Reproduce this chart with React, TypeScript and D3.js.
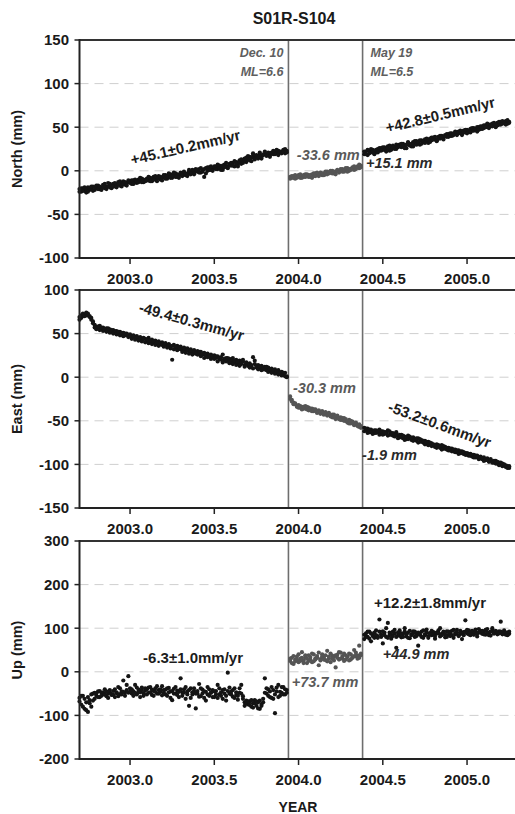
import React from "react";
import * as d3 from "d3";

// ---------- DATA ----------
const TITLE = "S01R-S104";
const X_TICKS = [2003.0, 2003.5, 2004.0, 2004.5, 2005.0];
const EVENTS = [2003.94, 2004.38];

const EPOCHS_1 = [
  2002.70, 2002.71, 2002.72, 2002.73, 2002.74, 2002.75, 2002.76, 2002.77, 2002.78, 2002.79,
  2002.80, 2002.81, 2002.82, 2002.83, 2002.84, 2002.85, 2002.86, 2002.87, 2002.88, 2002.89,
  2002.90, 2002.91, 2002.92, 2002.93, 2002.94, 2002.95, 2002.96, 2002.97, 2002.98, 2002.99,
  2003.00, 2003.01, 2003.02, 2003.03, 2003.04, 2003.05, 2003.06, 2003.07, 2003.08, 2003.09,
  2003.10, 2003.11, 2003.12, 2003.13, 2003.14, 2003.15, 2003.16, 2003.17, 2003.18, 2003.19,
  2003.20, 2003.21, 2003.22, 2003.23, 2003.24, 2003.25, 2003.26, 2003.27, 2003.28, 2003.29,
  2003.30, 2003.31, 2003.32, 2003.33, 2003.34, 2003.35, 2003.36, 2003.37, 2003.38, 2003.39,
  2003.40, 2003.41, 2003.42, 2003.43, 2003.44, 2003.45, 2003.46, 2003.47, 2003.48, 2003.49,
  2003.50, 2003.51, 2003.52, 2003.53, 2003.54, 2003.55, 2003.56, 2003.57, 2003.58, 2003.59,
  2003.60, 2003.61, 2003.62, 2003.63, 2003.64, 2003.65, 2003.66, 2003.67, 2003.68, 2003.69,
  2003.70, 2003.71, 2003.72, 2003.73, 2003.74, 2003.75, 2003.76, 2003.77, 2003.78, 2003.79,
  2003.80, 2003.81, 2003.82, 2003.83, 2003.84, 2003.85, 2003.86, 2003.87, 2003.88, 2003.89,
  2003.90, 2003.91, 2003.92, 2003.93,
];
const EPOCHS_2 = [
  2003.95, 2003.96, 2003.97, 2003.98, 2003.99, 2004.00, 2004.01, 2004.02, 2004.03, 2004.04,
  2004.05, 2004.06, 2004.07, 2004.08, 2004.09, 2004.10, 2004.11, 2004.12, 2004.13, 2004.14,
  2004.15, 2004.16, 2004.17, 2004.18, 2004.19, 2004.20, 2004.21, 2004.22, 2004.23, 2004.24,
  2004.25, 2004.26, 2004.27, 2004.28, 2004.29, 2004.30, 2004.31, 2004.32, 2004.33, 2004.34,
  2004.35, 2004.36, 2004.37,
];
const EPOCHS_3 = [
  2004.39, 2004.40, 2004.41, 2004.42, 2004.43, 2004.44, 2004.45, 2004.46, 2004.47, 2004.48,
  2004.49, 2004.50, 2004.51, 2004.52, 2004.53, 2004.54, 2004.55, 2004.56, 2004.57, 2004.58,
  2004.59, 2004.60, 2004.61, 2004.62, 2004.63, 2004.64, 2004.65, 2004.66, 2004.67, 2004.68,
  2004.69, 2004.70, 2004.71, 2004.72, 2004.73, 2004.74, 2004.75, 2004.76, 2004.77, 2004.78,
  2004.79, 2004.80, 2004.81, 2004.82, 2004.83, 2004.84, 2004.85, 2004.86, 2004.87, 2004.88,
  2004.89, 2004.90, 2004.91, 2004.92, 2004.93, 2004.94, 2004.95, 2004.96, 2004.97, 2004.98,
  2004.99, 2005.00, 2005.01, 2005.02, 2005.03, 2005.04, 2005.05, 2005.06, 2005.07, 2005.08,
  2005.09, 2005.10, 2005.11, 2005.12, 2005.13, 2005.14, 2005.15, 2005.16, 2005.17, 2005.18,
  2005.19, 2005.20, 2005.21, 2005.22, 2005.23, 2005.24, 2005.25,
];

// North (mm): two solutions per epoch (A, B)
const NORTH_1 = [
  -21, -24, -20, -23, -25, -19, -22, -21, -18, -22,
  -20, -17, -21, -19, -16, -20, -18, -14, -19, -17,
  -15, -18, -16, -13, -17, -15, -12, -16, -14, -13,
  -12, -15, -11, -13, -14, -10, -12, -9, -13, -11,
  -9, -11, -8, -12, -7, -10, -9, -6, -10, -8,
  -7, -5, -9, -6, -4, -8, -6, -3, -7, -5,
  -4, -6, -2, -5, -3, 1, -4, -2, -3, 0,
  -1, 2, -2, 1, -7, 3, 0, 4, 1, 2,
  3, 5, 2, 6, 4, 1, 7, 5, 3, 8,
  6, 9, 5, 10, 7, 12, 8, 11, 14, 10,
  13, 16, 11, 18, 15, 17, 14, 19, 16, 18,
  19, 17, 20, 18, 21, 19, 22, 20, 23, 21,
  22, 24, 20, 23,
];
const NORTH_1B = [
  -24, -20, -23, -19, -21, -24, -20, -18, -23, -19,
  -17, -21, -18, -22, -19, -15, -21, -18, -15, -20,
  -18, -14, -19, -16, -12, -18, -15, -13, -17, -11,
  -14, -11, -15, -10, -12, -13, -8, -13, -10, -12,
  -11, -7, -12, -9, -10, -6, -12, -8, -7, -11,
  -5, -9, -6, -3, -8, -5, -2, -7, -4, -8,
  -2, -5, -1, -4, -6, -1, -3, 1, -4, 2,
  1, -2, 3, -1, 2, -3, 4, 1, 5, 0,
  5, 2, 7, 3, 1, 6, 4, 9, 5, 6,
  9, 6, 11, 8, 5, 10, 13, 9, 12, 15,
  17, 12, 15, 20, 13, 18, 16, 21, 14, 19,
  22, 18, 21, 16, 20, 23, 19, 24, 18, 22,
  20, 22, 25, 21,
];
const NORTH_2 = [
  -7, -8, -6, -9, -7, -5, -8, -6, -7, -4,
  -6, -5, -7, -4, -6, -3, -5, -4, -2, -5,
  -3, -4, -1, -3, -2, 0, -3, -1, 1, -2,
  0, 2, -1, 1, 3, 0, 2, 4, 1, 3,
  5, 3, 6,
];
const NORTH_2B = [
  -9, -6, -8, -5, -8, -7, -4, -8, -5, -7,
  -4, -7, -5, -8, -3, -6, -2, -6, -4, -3,
  -5, -1, -4, -2, 0, -3, -1, -4, 0, -1,
  2, -1, 1, 3, -1, 2, 1, 3, 5, 2,
  4, 7, 4,
];
const NORTH_3 = [
  19, 22, 18, 23, 21, 24, 20, 22, 25, 23,
  26, 24, 27, 25, 28, 23, 26, 29, 27, 25,
  28, 30, 27, 31, 29, 26, 32, 30, 28, 33,
  31, 34, 32, 30, 35, 33, 36, 34, 32, 37,
  35, 38, 36, 34, 39, 37, 40, 38, 41, 39,
  42, 40, 43, 41, 44, 42, 45, 43, 41, 46,
  44, 47, 45, 48, 46, 49, 47, 45, 50, 48,
  51, 49, 52, 50, 53, 51, 54, 52, 50, 55,
  53, 56, 54, 55, 57, 54, 56,
];
const NORTH_3B = [
  22, 19, 24, 20, 25, 22, 19, 24, 21, 26,
  23, 27, 24, 22, 26, 29, 24, 27, 25, 30,
  27, 29, 31, 28, 26, 30, 33, 29, 31, 28,
  34, 30, 33, 35, 31, 34, 32, 37, 35, 33,
  38, 36, 39, 35, 37, 40, 38, 36, 40, 42,
  39, 43, 40, 42, 45, 41, 44, 46, 43, 44,
  47, 43, 46, 44, 49, 46, 48, 50, 47, 51,
  48, 52, 50, 54, 49, 53, 51, 55, 53, 52,
  56, 53, 57, 55, 53, 58, 55,
];

// East (mm)
const EAST_1 = [
  66, 68, 70, 72, 71, 73, 70, 68, 64, 60,
  58, 56, 59, 55, 57, 54, 56, 53, 55, 52,
  54, 51, 53, 50, 52, 49, 51, 48, 50, 47,
  49, 46, 48, 45, 47, 44, 46, 43, 45, 44,
  42, 45, 41, 43, 40, 42, 39, 41, 38, 40,
  37, 39, 36, 38, 35, 20, 37, 34, 36, 33,
  35, 32, 34, 31, 33, 30, 32, 29, 31, 28,
  30, 27, 29, 26, 28, 25, 27, 24, 26, 23,
  25, 22, 24, 21, 23, 26, 20, 22, 19, 21,
  18, 22, 17, 20, 16, 19, 15, 18, 14, 17,
  13, 16, 12, 23, 15, 11, 14, 10, 13, 9,
  12, 8, 11, 7, 10, 6, 9, 5, 8, 4,
  6, 3, 5, 1,
];
const EAST_1B = [
  69, 71, 73, 70, 74, 71, 69, 66, 62, 57,
  55, 58, 54, 57, 53, 55, 52, 56, 51, 54,
  50, 53, 49, 52, 48, 51, 47, 50, 49, 46,
  47, 44, 47, 43, 46, 42, 45, 41, 44, 40,
  43, 39, 42, 38, 41, 37, 40, 36, 39, 37,
  35, 38, 34, 37, 33, 36, 32, 35, 31, 34,
  32, 29, 33, 28, 31, 27, 30, 26, 29, 27,
  26, 29, 24, 27, 22, 26, 23, 25, 21, 24,
  21, 24, 18, 22, 20, 17, 21, 18, 22, 16,
  20, 15, 19, 14, 18, 13, 17, 20, 12, 16,
  15, 11, 14, 10, 19, 13, 9, 12, 8, 11,
  9, 12, 6, 9, 5, 8, 4, 7, 3, 5,
  2, 5, 1, 0,
];
const EAST_2 = [
  -22, -26, -29, -31, -33, -32, -35, -34, -36, -33,
  -37, -35, -38, -36, -39, -37, -40, -38, -41, -39,
  -42, -40, -43, -41, -44, -46, -43, -47, -45, -48,
  -46, -49, -47, -50, -52, -49, -53, -51, -54, -52,
  -55, -57, -56,
];
const EAST_2B = [
  -25, -28, -31, -30, -34, -35, -33, -37, -34, -36,
  -34, -38, -36, -39, -37, -38, -41, -39, -42, -40,
  -43, -41, -44, -42, -45, -43, -46, -48, -44, -47,
  -49, -47, -50, -48, -51, -53, -50, -52, -55, -53,
  -56, -54, -58,
];
const EAST_3 = [
  -58, -61, -59, -63, -60, -62, -64, -61, -63, -60,
  -64, -62, -65, -63, -61, -66, -64, -67, -65, -63,
  -67, -69, -66, -70, -68, -71, -67, -70, -72, -69,
  -71, -73, -70, -74, -72, -75, -73, -76, -74, -77,
  -76, -78, -80, -77, -79, -81, -78, -82, -80, -83,
  -81, -84, -82, -85, -83, -86, -84, -87, -85, -88,
  -87, -89, -88, -90, -91, -89, -92, -90, -93, -91,
  -94, -92, -95, -93, -96, -94, -97, -98, -96, -99,
  -98, -100, -99, -101, -103, -102, -104,
];
const EAST_3B = [
  -62, -59, -64, -60, -63, -65, -61, -64, -62, -66,
  -62, -66, -63, -64, -67, -62, -66, -64, -68, -66,
  -70, -66, -69, -67, -72, -69, -71, -68, -70, -73,
  -72, -70, -75, -71, -74, -73, -77, -74, -78, -75,
  -79, -77, -78, -81, -78, -80, -83, -79, -82, -81,
  -84, -82, -85, -83, -86, -84, -88, -85, -87, -86,
  -89, -87, -90, -88, -89, -92, -90, -91, -94, -92,
  -93, -96, -94, -95, -97, -95, -98, -96, -99, -97,
  -101, -98, -102, -100, -101, -104, -102,
];

// Up (mm)
const UP_1 = [
  -60, -75, -55, -85, -70, -92, -65, -80, -50, -62,
  -55, -45, -58, -48, -52, -40, -56, -50, -47, -53,
  -44, -58, -49, -35, -51, -45, -20, -48, -42, -10,
  -38, -50, -45, -30, -52, -41, -47, -36, -55, -43,
  -40, -48, -35, -53, -44, -38, -50, -42, -46, -33,
  -48, -41, -55, -37, -45, -65, -39, -50, -43, -58,
  -15, -47, -40, -62, -45, -78, -38, -52, -44, -84,
  -50, -28, -56, -41, -60, -46, -35, -55, -48, -42,
  -58, -44, -30, -52, -47, -62, -40, -55, -2, -50,
  -45, -57, -38, -53, -64, -48, -30, -56, -70, -66,
  -75, -68, -80, -72, -65, -78, -70, -85, -74, -62,
  -15, -50, -40, -58, -35, -62, -95, -45, -30, -55,
  -48, -35, -52, -42,
];
const UP_1B = [
  -68, -55, -80, -62, -88, -58, -72, -52, -66, -48,
  -50, -58, -44, -55, -47, -52, -45, -60, -42, -51,
  -53, -40, -47, -56, -38, -52, -46, -55, -30, -48,
  -45, -40, -55, -48, -36, -47, -58, -42, -49, -38,
  -52, -36, -47, -41, -55, -46, -33, -50, -40, -54,
  -42, -52, -38, -47, -60, -44, -50, -35, -53, -46,
  -40, -55, -48, -35, -52, -42, -60, -47, -38, -50,
  -44, -57, -38, -50, -45, -66, -52, -40, -48, -58,
  -45, -52, -60, -38, -55, -42, -50, -66, -44, -36,
  -52, -42, -60, -47, -55, -38, -50, -62, -78, -72,
  -68, -76, -65, -82, -72, -68, -84, -66, -78, -70,
  -48, -38, -55, -45, -60, -42, -52, -36, -58, -46,
  -35, -52, -40, -48,
];
const UP_2 = [
  25, 32, 18, 28, 35, 22, 30, 45, 26, 33,
  20, 38, 28, 42, 24, 31, 36, 15, 29, 40,
  33, 27, 48, 30, 22, 37, 34, 10, 39, 28,
  44, 31, 25, 38, 35, 42, 28, 33, 50, 36,
  30, 60, 38,
];
const UP_2B = [
  30, 20, 36, 24, 28, 40, 25, 32, 20, 38,
  30, 25, 34, 22, 40, 28, 32, 44, 26, 35,
  28, 38, 24, 35, 42, 30, 26, 38, 32, 45,
  30, 36, 42, 28, 34, 26, 40, 32, 36, 44,
  38, 32, 42,
];
const UP_3 = [
  75, 88, 80, 92, 70, 85, 78, 95, 82, 120,
  86, 65, 90, 80, 112, 84, 76, 92, 88, 55,
  83, 95, 79, 87, 100, 81, 90, 77, 86, 93,
  80, 88, 60, 85, 92, 78, 86, 97, 82, 89,
  84, 91, 76, 88, 95, 81, 87, 90, 79, 93,
  85, 82, 94, 78, 89, 96, 83, 87, 75, 91,
  118, 88, 95, 84, 92, 86, 97, 81, 90, 94,
  87, 92, 85, 98, 89, 83, 95, 88, 91, 86,
  93, 115, 88, 92, 85, 90, 87,
];
const UP_3B = [
  85, 80, 92, 76, 88, 82, 90, 84, 78, 92,
  80, 93, 84, 100, 78, 90, 85, 82, 96, 80,
  90, 84, 88, 80, 92, 86, 78, 94, 84, 88,
  92, 82, 90, 86, 80, 95, 84, 90, 78, 88,
  94, 86, 82, 90, 88, 100, 84, 92, 86, 80,
  92, 88, 84, 96, 86, 90, 82, 94, 88, 84,
  92, 96, 86, 90, 94, 85, 92, 88, 98, 90,
  94, 86, 96, 90, 84, 92, 100, 88, 94, 90,
  88, 92, 86, 95, 90, 84, 92,
];

const NORTH_TICKS = [-100, -50, 0, 50, 100, 150];
const EAST_TICKS = [-150, -100, -50, 0, 50, 100];
const UP_TICKS = [-200, -100, 0, 100, 200, 300];

// ---------- LAYOUT / STYLE ----------
const W = 515;
const H = 814;
const FONT = "'Liberation Sans', Arial, Helvetica, sans-serif";
const LEFT = 79.5;
const RIGHT = 517.6;
const DARK = "#141414";
const GREY_DOT = "#555555";

const x = d3.scaleLinear().domain([2002.7, 2005.3]).range([LEFT, RIGHT]);

type Seg = { t: number[]; v: number[]; color: string };
type Ann = {
  text: string;
  t: number;
  v: number;
  angle?: number;
  anchor?: "start" | "middle" | "end";
  italic?: boolean;
  color?: string;
  size?: number;
};

type PanelProps = {
  top: number;
  bottom: number;
  domain: [number, number];
  ticks: number[];
  label: string;
  segs: Seg[];
  anns: Ann[];
  eventLabels?: boolean;
};

function Panel({ top, bottom, domain, ticks, label, segs, anns, eventLabels }: PanelProps) {
  const y = d3.scaleLinear().domain(domain).range([bottom, top]);
  const inner = ticks.filter((d) => d !== domain[0] && d !== domain[1]);
  return (
    <g>
      {inner.map((d) => (
        <line
          key={"g" + d}
          x1={LEFT}
          x2={W}
          y1={y(d)}
          y2={y(d)}
          stroke="#cfcfcf"
          strokeWidth={1}
          strokeDasharray="9,6"
        />
      ))}
      {EVENTS.map((e) => (
        <line
          key={"e" + e}
          x1={x(e)}
          x2={x(e)}
          y1={top}
          y2={bottom}
          stroke="#6e6e6e"
          strokeWidth={1.6}
        />
      ))}
      {segs.map((s, si) =>
        s.t.map((t, i) =>
          s.v[i] === undefined ? null : (
            <circle key={si + "-" + i} cx={x(t)} cy={y(s.v[i])} r={2.1} fill={s.color} />
          )
        )
      )}
      <line x1={LEFT} x2={W + 2} y1={top} y2={top} stroke="#333" strokeWidth={2} />
      <line x1={LEFT} x2={W + 2} y1={bottom} y2={bottom} stroke="#222" strokeWidth={2} />
      <line x1={LEFT} x2={LEFT} y1={top - 1} y2={bottom + 1} stroke="#222" strokeWidth={2} />
      {ticks.map((d) => (
        <g key={"yt" + d}>
          <line x1={LEFT - 5} x2={LEFT} y1={y(d)} y2={y(d)} stroke="#222" strokeWidth={1.5} />
          <text
            x={69}
            y={y(d)}
            dy="0.36em"
            textAnchor="end"
            fontFamily={FONT}
            fontWeight="bold"
            fontSize={15}
            fill="#1a1a1a"
          >
            {d}
          </text>
        </g>
      ))}
      {X_TICKS.map((d) => (
        <g key={"xt" + d}>
          <line x1={x(d)} x2={x(d)} y1={bottom} y2={bottom + 6} stroke="#222" strokeWidth={1.5} />
          <text
            x={x(d)}
            y={bottom + 26}
            textAnchor="middle"
            fontFamily={FONT}
            fontWeight="bold"
            fontSize={15}
            fill="#1a1a1a"
          >
            {d.toFixed(1)}
          </text>
        </g>
      ))}
      <text
        transform={`translate(22,${(top + bottom) / 2}) rotate(-90)`}
        textAnchor="middle"
        fontFamily={FONT}
        fontWeight="bold"
        fontSize={14.5}
        fill="#1a1a1a"
      >
        {label}
      </text>
      {eventLabels && (
        <g fontFamily={FONT} fontStyle="italic" fontWeight="bold" fontSize={12.5} fill="#5e5e5e">
          <text x={x(EVENTS[0]) - 5} y={top + 17} textAnchor="end">Dec. 10</text>
          <text x={x(EVENTS[0]) - 5} y={top + 36} textAnchor="end">ML=6.6</text>
          <text x={x(EVENTS[1]) + 8} y={top + 17} textAnchor="start">May 19</text>
          <text x={x(EVENTS[1]) + 8} y={top + 36} textAnchor="start">ML=6.5</text>
        </g>
      )}
      {anns.map((a, i) => (
        <text
          key={"a" + i}
          transform={`translate(${x(a.t)},${y(a.v)}) rotate(${a.angle || 0})`}
          textAnchor={a.anchor || "start"}
          fontFamily={FONT}
          fontWeight="bold"
          fontStyle={a.italic ? "italic" : "normal"}
          fontSize={a.size || 15}
          fill={a.color || "#1c1c1c"}
        >
          {a.text}
        </text>
      ))}
    </g>
  );
}

export default function App() {
  return (
    <svg
      width={W}
      height={H}
      viewBox={`0 0 ${W} ${H}`}
      style={{ position: "absolute", left: 0, top: 0, background: "#fff" }}
    >
      <rect x={0} y={0} width={W} height={H} fill="#fff" />
      <text
        x={294}
        y={24}
        textAnchor="middle"
        fontFamily={FONT}
        fontWeight="bold"
        fontSize={16}
        fill="#1a1a1a"
      >
        {TITLE}
      </text>
      <Panel
        top={40}
        bottom={258}
        domain={[-100, 150]}
        ticks={NORTH_TICKS}
        label="North (mm)"
        eventLabels
        segs={[
          { t: EPOCHS_1, v: NORTH_1, color: DARK },
          { t: EPOCHS_1, v: NORTH_1B, color: DARK },
          { t: EPOCHS_2, v: NORTH_2, color: GREY_DOT },
          { t: EPOCHS_2, v: NORTH_2B, color: GREY_DOT },
          { t: EPOCHS_3, v: NORTH_3, color: DARK },
          { t: EPOCHS_3, v: NORTH_3B, color: DARK },
        ]}
        anns={[
          { text: "+45.1±0.2mm/yr", t: 2003.012, v: 6.7, angle: -13 },
          { text: "+42.8±0.5mm/yr", t: 2004.525, v: 43.3, angle: -13.5 },
          { text: "-33.6 mm", t: 2003.99, v: 12.4, italic: true, color: "#5a5a5a", size: 14.5 },
          { text: "+15.1 mm", t: 2004.4, v: 3.2, italic: true, color: "#2a2a2a", size: 14.5 },
        ]}
      />
      <Panel
        top={290}
        bottom={508}
        domain={[-150, 100]}
        ticks={EAST_TICKS}
        label="East (mm)"
        segs={[
          { t: EPOCHS_1, v: EAST_1, color: DARK },
          { t: EPOCHS_1, v: EAST_1B, color: DARK },
          { t: EPOCHS_2, v: EAST_2, color: GREY_DOT },
          { t: EPOCHS_2, v: EAST_2B, color: GREY_DOT },
          { t: EPOCHS_3, v: EAST_3, color: DARK },
          { t: EPOCHS_3, v: EAST_3B, color: DARK },
        ]}
        anns={[
          { text: "-49.4±0.3mm/yr", t: 2003.047, v: 74.8, angle: 15.5 },
          { text: "-53.2±0.6mm/yr", t: 2004.525, v: -38.8, angle: 20 },
          { text: "-30.3 mm", t: 2003.967, v: -18.1, italic: true, color: "#5a5a5a", size: 14.5 },
          { text: "-1.9 mm", t: 2004.377, v: -95, italic: true, color: "#2a2a2a", size: 14.5 },
        ]}
      />
      <Panel
        top={541}
        bottom={759}
        domain={[-200, 300]}
        ticks={UP_TICKS}
        label="Up (mm)"
        segs={[
          { t: EPOCHS_1, v: UP_1, color: DARK },
          { t: EPOCHS_1, v: UP_1B, color: DARK },
          { t: EPOCHS_2, v: UP_2, color: GREY_DOT },
          { t: EPOCHS_2, v: UP_2B, color: GREY_DOT },
          { t: EPOCHS_3, v: UP_3, color: DARK },
          { t: EPOCHS_3, v: UP_3B, color: DARK },
        ]}
        anns={[
          { text: "-6.3±1.0mm/yr", t: 2003.374, v: 20.2, anchor: "middle" },
          { text: "+12.2±1.8mm/yr", t: 2004.78, v: 146.3, anchor: "middle" },
          { text: "+73.7 mm", t: 2003.96, v: -34.9, italic: true, color: "#5a5a5a", size: 14.5 },
          { text: "+44.9 mm", t: 2004.5, v: 29.4, italic: true, color: "#2a2a2a", size: 14.5 },
        ]}
      />
      <text
        x={298}
        y={812}
        textAnchor="middle"
        fontFamily={FONT}
        fontWeight="bold"
        fontSize={14}
        fill="#1a1a1a"
      >
        YEAR
      </text>
    </svg>
  );
}
